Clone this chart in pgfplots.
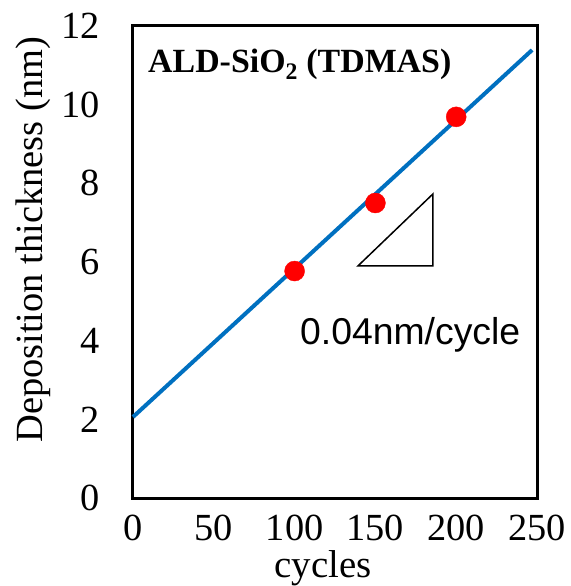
\documentclass[border=0pt]{standalone}
\usepackage{pgfplots}
\pgfplotsset{compat=1.18}
\usepackage{fontspec}
\setmainfont{Liberation Serif}
\newfontfamily\arial{Liberation Sans}
\definecolor{xlblue}{RGB}{0,112,192}
\begin{document}
\begin{tikzpicture}
\useasboundingbox (-133bp,-88bp) rectangle (438bp,498bp);
\begin{axis}[
  at={(0,0)}, anchor=south west,
  scale only axis, width=404bp, height=472bp,
  xmin=0, xmax=250, ymin=0, ymax=12,
  xtick={0,50,100,150,200,250},
  ytick={0,2,4,6,8,10,12},
  major tick length=0pt,
  axis line style={line width=3bp},
  /pgf/number format/assume math mode=true,
  tick label style={font=\fontsize{38.5}{40}\selectfont, inner sep=0pt},
  yticklabel style={xshift=-33bp},
  xticklabel style={yshift=-17bp},
  xlabel={cycles},
  ylabel={Deposition thickness (nm)},
  xlabel style={font=\fontsize{39}{41}\selectfont, at={(axis description cs:0.470,0)}, anchor=base, yshift=-79bp},
  ylabel style={font=\fontsize{38.6}{40}\selectfont, at={(axis description cs:-0.223,0.547)}, anchor=base},
  clip=false,
]
\addplot[color=xlblue, line width=4bp] coordinates {(0,2.06) (247,11.39)};
\addplot[only marks, mark=*, mark size=10bp, color=red] coordinates {(100,5.77) (150,7.50) (200,9.69)};
\draw[black, line width=1.5bp, line join=miter] (axis cs:139.2,5.90) -- (axis cs:185.6,5.90) -- (axis cs:185.6,7.73) -- cycle;
\node[anchor=base west, inner sep=0pt, font=\arial\fontsize{37.5}{39}\selectfont] at (axis cs:103.3,3.89) {0.04nm/cycle};
\node[anchor=base west, inner sep=0pt, font=\bfseries\fontsize{34}{36}\selectfont] at (axis cs:9.3,10.83) {ALD-SiO\textsubscript{2} (TDMAS)};
\end{axis}
\end{tikzpicture}
\end{document}
